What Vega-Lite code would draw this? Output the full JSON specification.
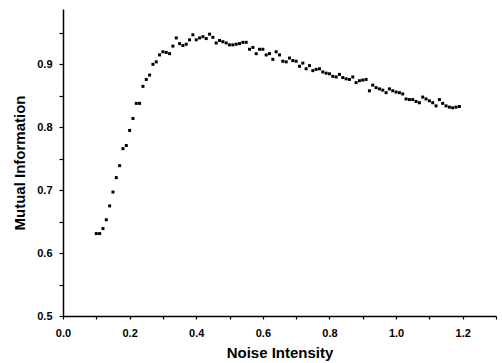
{
  "$schema": "https://vega.github.io/schema/vega-lite/v6.json",
  "width": 433,
  "height": 307,
  "autosize": "none",
  "padding": {"left": 63, "top": 9, "right": 6, "bottom": 47},
  "background": "white",
  "config": {"view": {"stroke": null}, "font": "Liberation Sans"},
  "data": {"values": [
    {"x": 0.10, "y": 0.631}, {"x": 0.11, "y": 0.631}, {"x": 0.12, "y": 0.639}, {"x": 0.13, "y": 0.653},
    {"x": 0.14, "y": 0.675}, {"x": 0.15, "y": 0.697}, {"x": 0.16, "y": 0.720}, {"x": 0.17, "y": 0.739},
    {"x": 0.18, "y": 0.766}, {"x": 0.19, "y": 0.771}, {"x": 0.20, "y": 0.795}, {"x": 0.21, "y": 0.814},
    {"x": 0.22, "y": 0.838}, {"x": 0.23, "y": 0.838}, {"x": 0.24, "y": 0.865}, {"x": 0.25, "y": 0.876},
    {"x": 0.26, "y": 0.883}, {"x": 0.27, "y": 0.900}, {"x": 0.28, "y": 0.904}, {"x": 0.29, "y": 0.915},
    {"x": 0.30, "y": 0.920}, {"x": 0.31, "y": 0.919}, {"x": 0.32, "y": 0.917}, {"x": 0.33, "y": 0.929},
    {"x": 0.34, "y": 0.942}, {"x": 0.35, "y": 0.933}, {"x": 0.36, "y": 0.930}, {"x": 0.37, "y": 0.932},
    {"x": 0.38, "y": 0.939}, {"x": 0.39, "y": 0.947}, {"x": 0.40, "y": 0.939}, {"x": 0.41, "y": 0.942},
    {"x": 0.42, "y": 0.944}, {"x": 0.43, "y": 0.941}, {"x": 0.44, "y": 0.948}, {"x": 0.45, "y": 0.943},
    {"x": 0.46, "y": 0.934}, {"x": 0.47, "y": 0.938}, {"x": 0.48, "y": 0.936}, {"x": 0.49, "y": 0.934},
    {"x": 0.50, "y": 0.931}, {"x": 0.51, "y": 0.931}, {"x": 0.52, "y": 0.932}, {"x": 0.53, "y": 0.933},
    {"x": 0.54, "y": 0.935}, {"x": 0.55, "y": 0.935}, {"x": 0.56, "y": 0.924}, {"x": 0.57, "y": 0.927},
    {"x": 0.58, "y": 0.917}, {"x": 0.59, "y": 0.924}, {"x": 0.60, "y": 0.924}, {"x": 0.61, "y": 0.915},
    {"x": 0.62, "y": 0.917}, {"x": 0.63, "y": 0.908}, {"x": 0.64, "y": 0.920}, {"x": 0.65, "y": 0.915},
    {"x": 0.66, "y": 0.905}, {"x": 0.67, "y": 0.904}, {"x": 0.68, "y": 0.910}, {"x": 0.69, "y": 0.906},
    {"x": 0.70, "y": 0.905}, {"x": 0.71, "y": 0.897}, {"x": 0.72, "y": 0.902}, {"x": 0.73, "y": 0.893},
    {"x": 0.74, "y": 0.898}, {"x": 0.75, "y": 0.890}, {"x": 0.76, "y": 0.892}, {"x": 0.77, "y": 0.893},
    {"x": 0.78, "y": 0.888}, {"x": 0.79, "y": 0.886}, {"x": 0.80, "y": 0.885}, {"x": 0.81, "y": 0.881},
    {"x": 0.82, "y": 0.880}, {"x": 0.83, "y": 0.884}, {"x": 0.84, "y": 0.879}, {"x": 0.85, "y": 0.877},
    {"x": 0.86, "y": 0.876}, {"x": 0.87, "y": 0.880}, {"x": 0.88, "y": 0.871}, {"x": 0.89, "y": 0.874},
    {"x": 0.90, "y": 0.875}, {"x": 0.91, "y": 0.876}, {"x": 0.92, "y": 0.858}, {"x": 0.93, "y": 0.867},
    {"x": 0.94, "y": 0.863}, {"x": 0.95, "y": 0.861}, {"x": 0.96, "y": 0.859}, {"x": 0.97, "y": 0.855},
    {"x": 0.98, "y": 0.861}, {"x": 0.99, "y": 0.858}, {"x": 1.00, "y": 0.856}, {"x": 1.01, "y": 0.855},
    {"x": 1.02, "y": 0.853}, {"x": 1.03, "y": 0.845}, {"x": 1.04, "y": 0.844}, {"x": 1.05, "y": 0.844},
    {"x": 1.06, "y": 0.841}, {"x": 1.07, "y": 0.839}, {"x": 1.08, "y": 0.848}, {"x": 1.09, "y": 0.845},
    {"x": 1.10, "y": 0.842}, {"x": 1.11, "y": 0.839}, {"x": 1.12, "y": 0.834}, {"x": 1.13, "y": 0.844},
    {"x": 1.14, "y": 0.838}, {"x": 1.15, "y": 0.834}, {"x": 1.16, "y": 0.832}, {"x": 1.17, "y": 0.831},
    {"x": 1.18, "y": 0.832}, {"x": 1.19, "y": 0.833}
  ]},
  "mark": {"type": "point", "shape": "square", "filled": true, "size": 9, "color": "black", "opacity": 1},
  "encoding": {
    "x": {
      "field": "x", "type": "quantitative",
      "scale": {"domain": [0, 1.3], "nice": false, "zero": false},
      "axis": {
        "title": "Noise Intensity",
        "values": [0, 0.1, 0.2, 0.3, 0.4, 0.5, 0.6, 0.7, 0.8, 0.9, 1.0, 1.1, 1.2, 1.3],
        "labelExpr": "(round(datum.value*10) % 2 == 0 && datum.value < 1.25) ? format(datum.value, '.1f') : ''",
        "grid": false, "domainColor": "black", "domainWidth": 1.5,
        "tickColor": "black", "tickSize": 3, "tickWidth": 1.2,
        "labelFont": "Liberation Sans", "labelFontSize": 11, "labelFontWeight": "bold", "labelColor": "black",
        "labelPadding": 8, "labelFlush": false,
        "titleFont": "Liberation Sans", "titleFontSize": 15, "titleFontWeight": "bold", "titleColor": "black",
        "titlePadding": 7
      }
    },
    "y": {
      "field": "y", "type": "quantitative",
      "scale": {"domain": [0.5, 0.988], "nice": false, "zero": false},
      "axis": {
        "title": "Mutual Information",
        "values": [0.5, 0.55, 0.6, 0.65, 0.7, 0.75, 0.8, 0.85, 0.9, 0.95],
        "labelExpr": "(round(datum.value*100) % 10 == 0) ? format(datum.value, '.1f') : ''",
        "grid": false, "domainColor": "black", "domainWidth": 1.5,
        "tickColor": "black", "tickSize": 4, "tickWidth": 1.2,
        "labelFont": "Liberation Sans", "labelFontSize": 11, "labelFontWeight": "bold", "labelColor": "black",
        "labelPadding": 7, "labelFlush": false,
        "titleFont": "Liberation Sans", "titleFontSize": 15, "titleFontWeight": "bold", "titleColor": "black",
        "titlePadding": 9
      }
    }
  }
}
